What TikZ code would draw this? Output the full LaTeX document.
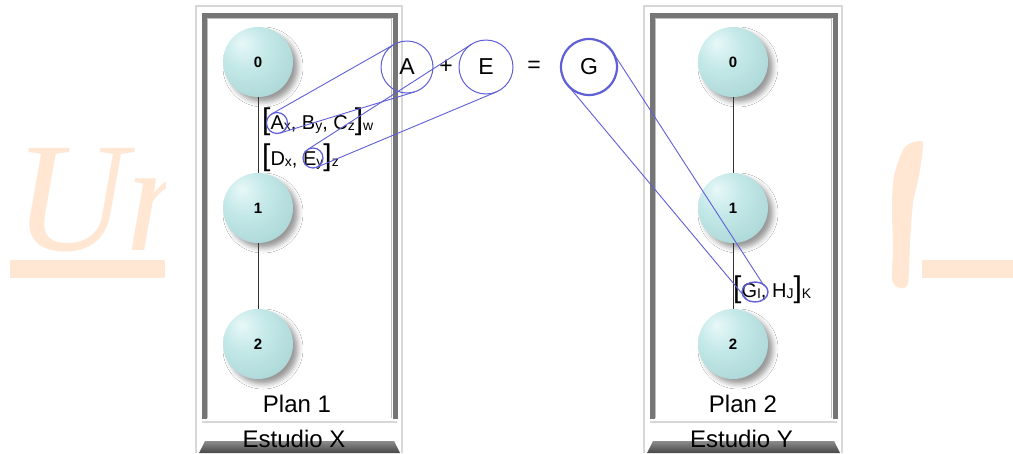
\documentclass[tikz,border=0pt]{standalone}
\usepackage{fontspec}
\setmainfont{Liberation Sans}
\newfontfamily\wmfont{Liberation Serif}
\usetikzlibrary{calc,shapes.geometric,shadows.blur}

\definecolor{wm}{RGB}{255,231,211}
\definecolor{lnblue}{RGB}{95,95,215}
\definecolor{pframe}{RGB}{118,118,118}
\definecolor{phl}{RGB}{190,190,190}
\definecolor{pouter}{RGB}{215,215,215}
\definecolor{ballA}{RGB}{232,248,248}
\definecolor{ballB}{RGB}{196,232,232}
\definecolor{ballC}{RGB}{165,210,210}
\definecolor{ballD}{RGB}{140,190,190}

\pgfdeclareradialshading{sphereshade}{\pgfpoint{-12bp}{14bp}}{color(0bp)=(ballA); color(16bp)=(ballB); color(42bp)=(ballC); color(70bp)=(ballD)}

\newcommand\mybrk[1]{{\fontsize{30}{30}\selectfont #1}}
\newcommand\mysub[1]{\raisebox{-1.5pt}{\fontsize{14}{14}\selectfont #1}}

\newcommand\drawpanel[2]{%
  \fill[white] (#1,5) rectangle (#2,453);
  \draw[pouter, line width=2pt] (#1+1,453) -- (#1+1,6) -- (#2-1,6) -- (#2-1,453);
  \draw[pframe, line width=5pt] (#1+9,419) -- (#1+9,15) -- (#2-8,15) -- (#2-8,419);
  \draw[phl, line width=1.5pt] (#1+12.5,418) -- (#1+12.5,18.5) -- (#2-11.5,18.5) -- (#2-11.5,418);
  \draw[pouter, line width=2pt] (#1+7,422) -- (#2-6,422);
  \shade[top color=black!45, bottom color=black!72] (#1+4,453) -- (#1+10,441) -- (#2-9,441) -- (#2-3,453) -- cycle;
}

\tikzset{
  ball/.style={circle, minimum size=70pt, inner sep=0pt, shading=sphereshade,
    blur shadow={shadow xshift=5pt, shadow yshift=-5pt, shadow blur radius=5pt, shadow opacity=40},
    font=\fontsize{15}{15}\selectfont\bfseries},
  conn/.style={draw=black!80, line width=1pt},
  bigc/.style={circle, draw=lnblue, line width=1pt, inner sep=0pt, font=\fontsize{23}{23}\selectfont},
  smc/.style={circle, draw=lnblue, line width=1.2pt, inner sep=0pt},
  tan/.style={draw=lnblue, line width=0.9pt},
  lbl/.style={inner sep=0pt, font=\fontsize{24}{24}\selectfont},
  formula/.style={anchor=base west, inner sep=0pt, font=\fontsize{20}{20}\selectfont}
}

\begin{document}
\begin{tikzpicture}[x=1pt, y=-1pt]
\useasboundingbox[fill=white] (0,0) rectangle (1013,453);

% watermark
\begin{scope}
  \clip (0,0) rectangle (165,453);
  \node[anchor=base west, inner sep=0pt, text=wm, font=\wmfont\itshape\fontsize{156}{156}\selectfont] (wmU) at (14,250) {Un};
\end{scope}
\fill[wm] (10,260) rectangle (165,278);
\fill[wm] (922,260) rectangle (1013,278);
\fill[wm] plot[smooth cycle] coordinates {(921,141) (905,147) (894,176) (892,210) (893,250) (892,280) (900,288) (908,283) (910,243) (913,203) (919,176) (923,147)};

% panels
\drawpanel{195}{403}
\drawpanel{643}{843}

% spheres
\node[ball] (L0) at (258,62) {0};
\node[ball] (L1) at (258,208) {1};
\node[ball] (L2) at (258,344) {2};
\node[ball] (R0) at (733,62) {0};
\node[ball] (R1) at (733,208) {1};
\node[ball] (R2) at (733,344) {2};
\draw[conn] (L0) -- (L1);
\draw[conn] (L1) -- (L2);
\draw[conn] (R0) -- (R1);
\draw[conn] (R1) -- (R2);

% labels
\node[lbl] (p1) at (297,403.5) {Plan 1};
\node[lbl] (e1) at (294,438.5) {Estudio X};
\node[lbl] (p2) at (743,403.5) {Plan 2};
\node[lbl] (e2) at (741.5,438.5) {Estudio Y};

% formulas
\node[formula] (f1) at (262,129) {\mybrk{[}A\mysub{x}, B\mysub{y}, C\mysub{z}\mybrk{]}\mysub{w}};
\node[formula] (f2) at (262,165) {\mybrk{[}D\mysub{x}, E\mysub{y}\mybrk{]}\mysub{z}};
\node[formula] (f3) at (733,297) {\mybrk{[}G\mysub{I}, H\mysub{J}\mybrk{]}\mysub{K}};

% equation
\node[bigc, minimum size=52pt] (bA) at (407,67) {A};
\node[inner sep=0pt, font=\fontsize{23}{23}\selectfont] (plus) at (446,67) {+};
\node[bigc, minimum size=54pt] (bE) at (486,67) {E};
\node[inner sep=0pt, font=\fontsize{23}{23}\selectfont] (eq) at (534,67) {=};
\node[bigc, minimum size=56pt, line width=2.2pt] (bG) at (589,67) {G};

% small circles
\node[smc, minimum size=21pt] (sA) at (277,123) {};
\node[smc, minimum size=20pt] (sE) at (313,158) {};
\node[ellipse, draw=lnblue, line width=1.4pt, inner sep=0pt, minimum width=26pt, minimum height=20pt] (sG) at (755,292) {};

% tangent lines
\draw[tan] ($(bA.center)!26pt!83.7:(sA.center)$) -- ($(sA.center)!10.5pt!-96.3:(bA.center)$);
\draw[tan] ($(bA.center)!26pt!-83.7:(sA.center)$) -- ($(sA.center)!10.5pt!96.3:(bA.center)$);
\draw[tan] ($(bE.center)!27pt!85:(sE.center)$) -- ($(sE.center)!10pt!-95:(bE.center)$);
\draw[tan] ($(bE.center)!27pt!-85:(sE.center)$) -- ($(sE.center)!10pt!95:(bE.center)$);
\draw[tan] ($(bG.center)!28pt!86.5:(sG.center)$) -- ($(sG.center)!11pt!-93.5:(bG.center)$);
\draw[tan] ($(bG.center)!28pt!-86.5:(sG.center)$) -- ($(sG.center)!11pt!93.5:(bG.center)$);
\end{tikzpicture}
\end{document}
